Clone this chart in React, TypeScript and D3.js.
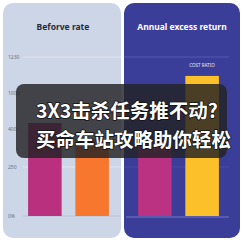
import React from "react";
import * as d3 from "d3";

const categories = ["Fund", "Benchmark"];
const beforeValues = [500, 360];
const excessValues = [365, 1109];
const tickValues = [0, 250, 400, 1000, 1230];
const tickLabels = ["0%", "250", "400", "1000", "1230"];
const leftColors = ["#b9307f", "#f7772f"];
const rightColors = ["#bb3282", "#fcc02b"];
const leftTitle = "Beforve rate";
const rightTitle = "Annual excess return";
const rightLabel = "COST RATIO";
const overlayLines = ["3X3击杀任务推不动?", "买命车站攻略助你轻松"];

export default function App() {
  const W = 243, H = 243;
  // non-uniform axis as drawn in the reference (polylinear scale)
  const y = d3.scaleLinear().domain(tickValues).range([216, 167, 129, 93, 57]);
  const xL = d3.scaleBand<string>().domain(categories).range([21, 116]).paddingInner(0.29).paddingOuter(0.15);
  const xR = d3.scaleBand<string>().domain(categories).range([131, 226]).paddingInner(0.29).paddingOuter(0.15);
  const font = "'Noto Sans', 'DejaVu Sans', sans-serif";
  return (
    <svg width={W} height={H} style={{ position: "absolute", left: 0, top: 0, background: "#ffffff" }}>
      {/* left panel */}
      <rect x={3} y={3} width={118} height={235} rx={10} fill="#cdd6e6" />
      <text x={63} y={30} textAnchor="middle" fontFamily={font} fontWeight="bold" fontSize={8.5} fill="#2a2a35">{leftTitle}</text>
      {tickValues.map((t, i) => (
        <g key={t}>
          <line x1={23} x2={121} y1={y(t)} y2={y(t)} stroke={i === 0 ? "#b9c3d6" : "#e4e9f2"} strokeWidth={0.8} />
          <text x={8} y={y(t)} dominantBaseline="central" fontFamily={font} fontSize={5} fill="#6b7080">{tickLabels[i]}</text>
        </g>
      ))}
      {categories.map((c, i) => (
        <rect key={c} x={xL(c)} y={y(beforeValues[i])} width={xL.bandwidth()} height={y(0) - y(beforeValues[i])} fill={leftColors[i]} />
      ))}

      {/* right panel */}
      <rect x={124} y={3} width={116} height={235} rx={10} fill="#3a3e98" />
      <text x={182} y={30} textAnchor="middle" fontFamily={font} fontWeight="bold" fontSize={8.5} fill="#ffffff">{rightTitle}</text>
      <line x1={124} x2={229} y1={y(1230)} y2={y(1230)} stroke="#5a60b8" strokeWidth={0.8} />
      <line x1={124} x2={229} y1={y(250)} y2={y(250)} stroke="#4a4fa8" strokeWidth={0.8} />
      <text x={202} y={65} textAnchor="middle" dominantBaseline="central" fontFamily={font} fontSize={4.5} fill="#e8e8f4">{rightLabel}</text>
      {categories.map((c, i) => (
        <rect key={c} x={xR(c)} y={y(excessValues[i])} width={xR.bandwidth()} height={y(0) - y(excessValues[i])} fill={rightColors[i]} />
      ))}
      <line x1={126} x2={229} y1={y(0) + 1} y2={y(0) + 1} stroke="#7a80c8" strokeWidth={0.9} />

      {/* overlay */}
      <rect x={16} y={84} width={211} height={74} rx={8} fill="rgba(34,34,36,0.82)" />
      {overlayLines.map((l, i) => (
        <text key={i} x={36} y={109 + i * 29} dominantBaseline="central" fontFamily="'Noto Sans CJK SC', sans-serif" fontWeight="bold" fontSize={19.5} fill="#ffffff" stroke="#111" strokeWidth={1.5} paintOrder="stroke">{l}</text>
      ))}
    </svg>
  );
}
